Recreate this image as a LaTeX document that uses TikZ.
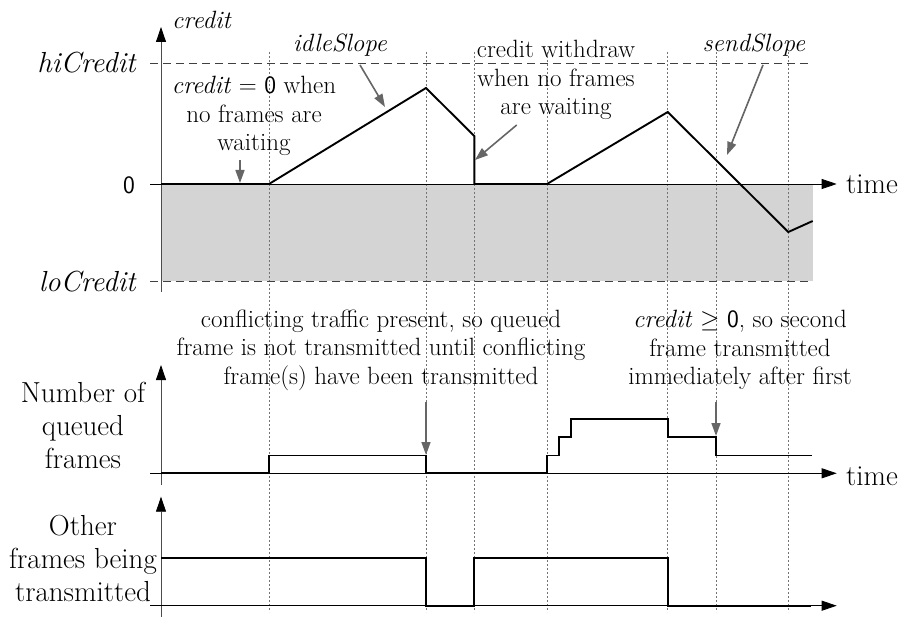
\documentclass[tikz,border=0pt]{standalone}
\usetikzlibrary{arrows.meta}
\begin{document}
\begin{tikzpicture}
	[x=1pt,y=-1pt,
	every node/.style={inner sep=0pt,align=center,font=\fontsize{25}{28.5}\selectfont},
	axislabel/.style={font=\fontsize{29}{33}\selectfont},
	axis/.style={draw=black!70,line width=0.8pt,-{Triangle[length=15pt,width=10pt,color=black]}},
	baseline/.style={draw=black,line width=0.8pt,-{Triangle[length=15pt,width=10pt]}},
	limit/.style={draw=black!75,line width=0.8pt,dash pattern=on 8pt off 5pt},
	guide/.style={draw=black!55,line width=0.6pt,dash pattern=on 2pt off 2pt},
	signal/.style={draw=black,line width=1.9pt,line join=miter},
	note/.style={draw=black!60,line width=1.6pt,-{Triangle[length=13pt,width=9pt]}}]
	\useasboundingbox (0,0) rectangle (899,617);
	% negative credit region
	\fill[black!17] (161,184) rectangle (812.7,281);
	\foreach \t in {269,426,474.3,547,667.7,716,788.3}
		\draw[guide] (\t,52) -- (\t,612);
	% credit panel
	\draw[limit] (150,63) -- (812.7,63);
	\draw[limit] (150,281) -- (812.7,281);
	\draw[axis] (161,292) -- (161,27);
	\draw[baseline] (150,184) -- (836.7,184);
	\node[anchor=west] (credit) at (172,20) {\textit{credit}};
	\node[axislabel,anchor=east] (hi) at (137,63) {\textit{hiCredit}};
	\node[anchor=east] (zero) at (135,185) {\textsf{0}};
	\node[axislabel,anchor=east] (lo) at (137,282) {\textit{loCredit}};
	\node[axislabel,anchor=west] (time) at (846,184) {time};
	\draw[signal] (161,184) -- (269,184) -- (426,88) -- (474.3,136) -- (474.3,184)
		-- (547,184) -- (667.7,112) -- (788.3,232) -- (812.7,221);
	% credit notes
	\node (idle) at (340,45) {\textit{idleSlope}};
	\node (send) at (754,45) {\textit{sendSlope}};
	\node (waiting) at (254,116) {\textit{credit} $=$ \textsf{0} when\\no frames are\\waiting};
	\node (withdraw) at (556,80) {credit withdraw\\when no frames\\are waiting};
	\coordinate (idleTail) at (360,65);
	\coordinate (idleTip) at (385,107);
	\coordinate (sendTail) at (763,65);
	\coordinate (sendTip) at (727,155);
	\coordinate (waitingTail) at (240,160);
	\coordinate (waitingTip) at (240,183);
	\coordinate (withdrawTail) at (516.7,125);
	\coordinate (withdrawTip) at (475,160);
	\draw[note] (idleTail) -- (idleTip);
	\draw[note] (sendTail) -- (sendTip);
	\draw[note] (waitingTail) -- (waitingTip);
	\draw[note] (withdrawTail) -- (withdrawTip);
	% queue panel
	\draw[axis] (161,485) -- (161,365);
	\draw[baseline] (150,473.3) -- (836.7,473.3);
	\node[axislabel] (queued) at (83,425) {Number of\\queued\\frames};
	\node[axislabel,anchor=west] (time2) at (846,476) {time};
	\draw[signal] (161,473.3) -- (269,473.3) -- (269,455.5) -- (426,455.5) -- (426,473.3)
		-- (547,473.3) -- (547,455.5) -- (559,455.5) -- (559,437) -- (571,437) -- (571,419)
		-- (667.7,419) -- (667.7,437) -- (716,437) -- (716,455.5) -- (811.7,455.5);
	\node (conflict) at (381,350) {conflicting traffic present, so queued\\frame is not transmitted until conflicting\\frame(s) have been transmitted};
	\node (second) at (740,350) {\textit{credit} $\geq$ \textsf{0}, so second\\frame transmitted\\immediately after first};
	\coordinate (conflictTail) at (426,402);
	\coordinate (conflictTip) at (426,455);
	\coordinate (secondTail) at (716,402);
	\coordinate (secondTip) at (716,436);
	\draw[note] (conflictTail) -- (conflictTip);
	\draw[note] (secondTail) -- (secondTip);
	% other traffic panel
	\draw[axis] (161,617) -- (161,496.7);
	\draw[baseline] (150,605.7) -- (836.7,605.7);
	\node[axislabel] (other) at (83,558) {Other\\frames being\\transmitted};
	\draw[signal] (161,557.7) -- (426,557.7) -- (426,605.7) -- (474.3,605.7) -- (474.3,557.7)
		-- (667.7,557.7) -- (667.7,605.7) -- (811,605.7);
\end{tikzpicture}
\end{document}
